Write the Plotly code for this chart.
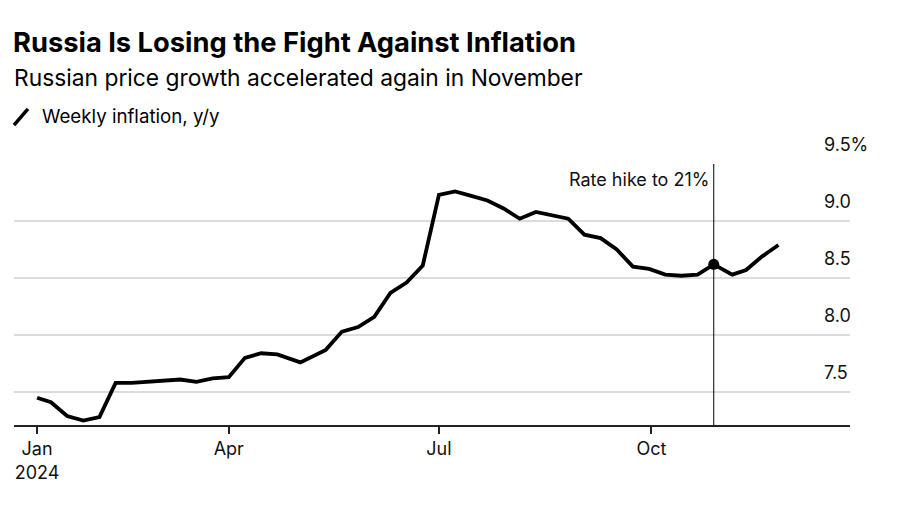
import plotly.graph_objects as go

dates = ["2024-01-09", "2024-01-15", "2024-01-22", "2024-01-29", "2024-02-05", "2024-02-12",
         "2024-02-19", "2024-02-26", "2024-03-04", "2024-03-11", "2024-03-18", "2024-03-25",
         "2024-04-01", "2024-04-08", "2024-04-15", "2024-04-22", "2024-05-02", "2024-05-13",
         "2024-05-20", "2024-05-27", "2024-06-03", "2024-06-10", "2024-06-17", "2024-06-24",
         "2024-07-01", "2024-07-08", "2024-07-15", "2024-07-22", "2024-07-29", "2024-08-05",
         "2024-08-12", "2024-08-19", "2024-08-26", "2024-09-02", "2024-09-09", "2024-09-16",
         "2024-09-23", "2024-09-30", "2024-10-07", "2024-10-14", "2024-10-21", "2024-10-28",
         "2024-11-05", "2024-11-11", "2024-11-18", "2024-11-25"]
inflation = [7.45, 7.41, 7.29, 7.25, 7.28, 7.58,
             7.58, 7.59, 7.60, 7.61, 7.59, 7.62,
             7.63, 7.80, 7.84, 7.83, 7.76, 7.87,
             8.03, 8.07, 8.16, 8.37, 8.46, 8.61,
             9.23, 9.26, 9.22, 9.18, 9.11, 9.02,
             9.08, 9.05, 9.02, 8.88, 8.85, 8.75,
             8.60, 8.58, 8.53, 8.52, 8.53, 8.62,
             8.53, 8.57, 8.69, 8.79]

hike_date = "2024-10-28"
hike_value = 8.62
hike_label = "Rate hike to 21%"

x_tick_vals = ["2024-01-09", "2024-04-01", "2024-07-01", "2024-10-01"]
x_tick_text = ["Jan<br>2024", "Apr", "Jul", "Oct"]
y_tick_vals = [7.5, 8.0, 8.5, 9.0, 9.5]
y_tick_text = ["7.5", "8.0", "8.5", "9.0", "9.5%"]

title = "Russia Is Losing the Fight Against Inflation"
subtitle = "Russian price growth accelerated again in November"
legend_label = "Weekly inflation, y/y"

FONT = "Inter, Liberation Sans, Arial, sans-serif"

fig = go.Figure()
fig.add_trace(go.Scatter(x=dates, y=inflation, mode="lines",
                         line=dict(color="black", width=3.8), hoverinfo="skip",
                         showlegend=False))
fig.add_trace(go.Scatter(x=[hike_date], y=[hike_value], mode="markers",
                         marker=dict(color="black", size=11), showlegend=False))

fig.add_shape(type="line", xref="x", yref="paper", x0=hike_date, x1=hike_date,
              y0=0, y1=1, line=dict(color="black", width=1))

annotations = []
annotations.append(dict(xref="x", yref="y", x=hike_date, y=9.5, text=hike_label,
                        showarrow=False, xanchor="right", yanchor="top",
                        xshift=-3, yshift=-3, font=dict(size=18, color="#111", family=FONT)))
for v, t in zip(y_tick_vals, y_tick_text):
    annotations.append(dict(xref="paper", yref="y", x=0.9665, y=v, text=t,
                            showarrow=False, xanchor="left", yanchor="bottom",
                            yshift=7, font=dict(size=18, color="#111", family=FONT)))
annotations.append(dict(xref="paper", yref="paper", x=-0.003, y=1.0, text="<b>" + title + "</b>",
                        showarrow=False, xanchor="left", yanchor="middle", yshift=122,
                        font=dict(size=27.3, color="black", family=FONT)))
annotations.append(dict(xref="paper", yref="paper", x=-0.002, y=1.0, text=subtitle,
                        showarrow=False, xanchor="left", yanchor="middle", yshift=87,
                        font=dict(size=22.8, color="black", family=FONT)))
annotations.append(dict(xref="paper", yref="paper", x=0.031, y=1.0, text=legend_label,
                        showarrow=False, xanchor="left", yanchor="middle", yshift=48,
                        font=dict(size=18.7, color="black", family=FONT)))
fig.add_shape(type="line", xref="paper", yref="paper", x0=0.0, x1=0.0167,
              y0=1.149, y1=1.211, line=dict(color="black", width=3.5))

fig.update_layout(
    width=900, height=510,
    margin=dict(l=14, r=50, t=164, b=85),
    paper_bgcolor="white", plot_bgcolor="white",
    font=dict(family=FONT, color="#111", size=18),
    annotations=annotations,
    xaxis=dict(range=["2023-12-30", "2024-12-26"], tickvals=x_tick_vals, ticktext=x_tick_text,
               showgrid=False, zeroline=False, showline=True, linecolor="#222", linewidth=1.5,
               ticks="outside", ticklen=7, tickcolor="#222", tickwidth=1.5,
               tickfont=dict(size=18, family=FONT, color="#111"), fixedrange=True),
    yaxis=dict(range=[7.211, 9.5], tickvals=y_tick_vals, showticklabels=False,
               showgrid=True, gridcolor="#dcdcdc", gridwidth=1.5, zeroline=False,
               showline=False, fixedrange=True),
)

fig.write_html("out.html")
